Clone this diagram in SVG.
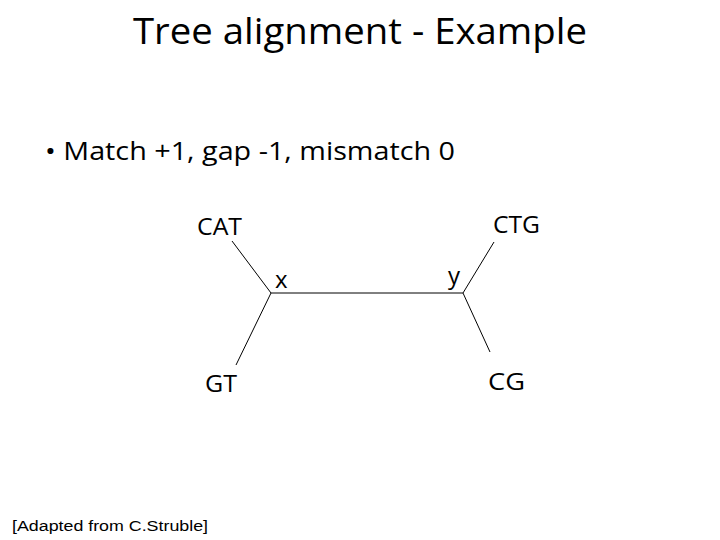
<svg xmlns="http://www.w3.org/2000/svg" width="720" height="540" viewBox="0 0 720 540">
<style>
.t{font-family:"Open Sans","Liberation Sans",sans-serif;fill:#000}
.l{stroke:#000;stroke-width:1;fill:none}
</style>
<rect width="720" height="540" fill="#fff"/>
<text class="t" x="360" y="44" font-size="36" text-anchor="middle" textLength="454" lengthAdjust="spacingAndGlyphs">Tree alignment - Example</text>
<text class="t" x="45" y="160" font-size="26" textLength="410" lengthAdjust="spacingAndGlyphs">• Match +1, gap -1, mismatch 0</text>
<g id="connectors">
<line class="l" x1="232" y1="241" x2="271" y2="293"/>
<line class="l" x1="271" y1="293" x2="236" y2="365"/>
<line class="l" x1="271" y1="293" x2="463" y2="293"/>
<line class="l" x1="463" y1="293" x2="494" y2="242"/>
<line class="l" x1="463" y1="293" x2="490" y2="352"/>
</g>
<g id="CAT"><text class="t" x="197" y="235" font-size="24" textLength="45" lengthAdjust="spacingAndGlyphs">CAT</text></g>
<g id="CTG"><text class="t" x="493" y="233" font-size="24" textLength="47" lengthAdjust="spacingAndGlyphs">CTG</text></g>
<g id="x"><text class="t" x="275" y="288" font-size="24">x</text></g>
<g id="y"><text class="t" x="448" y="284" font-size="24">y</text></g>
<g id="GT"><text class="t" x="205" y="392" font-size="24" textLength="32" lengthAdjust="spacingAndGlyphs">GT</text></g>
<g id="CG"><text class="t" x="488" y="390" font-size="24" textLength="37" lengthAdjust="spacingAndGlyphs">CG</text></g>
<text x="12" y="531" font-family="Liberation Sans,Arial,sans-serif" font-size="14" textLength="196" lengthAdjust="spacingAndGlyphs">[Adapted from C.Struble]</text>
</svg>
